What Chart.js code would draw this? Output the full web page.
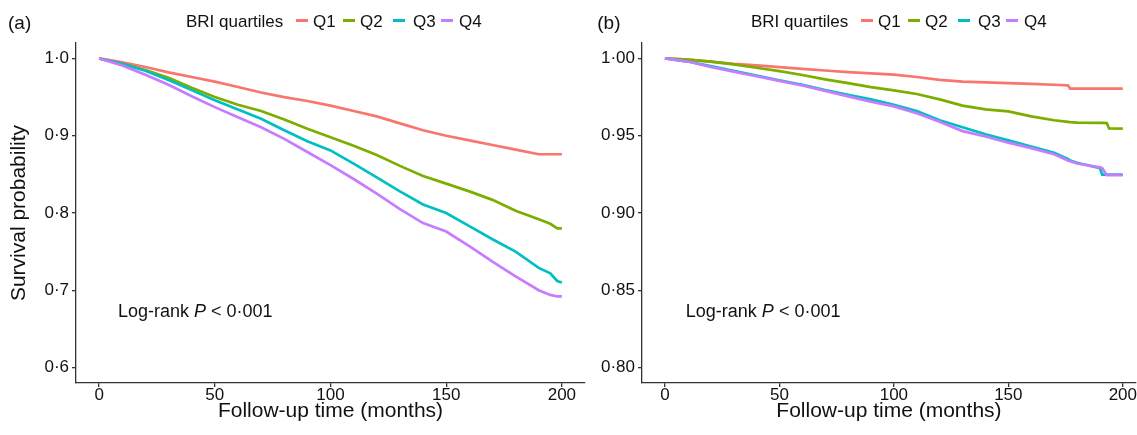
<!DOCTYPE html>
<html>
<head>
<meta charset="utf-8">
<script src="https://cdn.jsdelivr.net/npm/chart.js@4/dist/chart.umd.min.js"></script>
<style>
  body { margin: 0; width: 1137px; height: 435px; overflow: hidden; background: #fff;
         font-family: "Liberation Sans", Arial, sans-serif; color: #111; }
  canvas { position: absolute; top: 0; }
  .txt { position: absolute; line-height: 1; white-space: nowrap; }
  .key { position: absolute; height: 3px; }
</style>
</head>
<body>
<canvas id="grafA" width="590" height="435" style="left:0"></canvas>
<canvas id="grafB" width="547" height="435" style="left:590px"></canvas>
<div id="sobre"></div>
<script>
// Dados
const seriesNames = ["Q1", "Q2", "Q3", "Q4"];
const seriesColors = ["#F8766D", "#7CAE00", "#00BFC4", "#C77CFF"];
const legendTitle = "BRI quartiles";
const panelLabels = ["(a)", "(b)"];

const xTicks = [0, 50, 100, 150, 200];
const yTicksA = [0.6, 0.7, 0.8, 0.9, 1.0];
const yTicksB = [0.80, 0.85, 0.90, 0.95, 1.00];

// painel (a)
const monthsA = [0,10,20,30,40,50,60,70,80,90,100,110,120,130,140,150,160,170,180,190,195,198,200];
const q1A = [1,0.995,0.989,0.982,0.976,0.970,0.963,0.956,0.950,0.945,0.939,0.932,0.925,0.916,0.907,0.900,0.894,0.888,0.882,0.876,0.876,0.876,0.876];
const q2A = [1,0.993,0.985,0.975,0.962,0.950,0.940,0.932,0.921,0.909,0.898,0.887,0.875,0.861,0.848,0.838,0.828,0.817,0.803,0.792,0.786,0.780,0.780];
const q3A = [1,0.993,0.984,0.972,0.959,0.946,0.934,0.922,0.907,0.893,0.881,0.864,0.846,0.828,0.811,0.800,0.783,0.766,0.750,0.729,0.722,0.712,0.710];
const q4A = [1,0.991,0.979,0.966,0.951,0.937,0.924,0.911,0.896,0.879,0.862,0.844,0.825,0.805,0.787,0.776,0.757,0.737,0.718,0.700,0.694,0.692,0.692];

// painel (b)
const monthsB = [0,10,20,30,40,50,60,70,80,90,100,110,120,130,140,150,160,170,176,177,180,190,191,193,194,200];
const q1B = [1,0.9993,0.998,0.9965,0.9955,0.9944,0.9932,0.9922,0.9912,0.9903,0.9895,0.988,0.9862,0.985,0.9845,0.984,0.9835,0.983,0.9826,0.9805,0.9805,0.9805,0.9805,0.9805,0.9805,0.9805];
const q2B = [1,0.9993,0.998,0.9962,0.994,0.9918,0.9893,0.9865,0.984,0.9815,0.9794,0.977,0.9735,0.9695,0.967,0.9658,0.9625,0.960,0.959,0.9588,0.9585,0.9583,0.9583,0.9582,0.9548,0.9546];
const q3B = [1,0.998,0.995,0.992,0.989,0.9858,0.983,0.9795,0.9765,0.9735,0.970,0.966,0.960,0.9555,0.951,0.947,0.943,0.939,0.935,0.934,0.9325,0.929,0.9248,0.9248,0.9248,0.9248];
const q4B = [1,0.998,0.9945,0.9915,0.9885,0.9855,0.9825,0.979,0.9755,0.972,0.969,0.9645,0.959,0.953,0.9495,0.9455,0.942,0.938,0.934,0.9335,0.932,0.9295,0.929,0.9245,0.9245,0.9245];

const fonte = "'Liberation Sans', Arial, sans-serif";
const corEixo = "#333";
const corTexto = "#111";

function ponto(v, casas) {
  return v.toFixed(casas).replace(".", "\u00B7");
}

// Monta um painel
function criarPainel(id, months, series, yTicks, cfg) {
  const ctx = document.getElementById(id).getContext("2d");
  return new Chart(ctx, {
    type: "line",
    data: {
      datasets: series.map((vals, i) => ({
        label: seriesNames[i],
        data: months.map((m, j) => ({ x: m, y: vals[j] })),
        borderColor: seriesColors[i],
        backgroundColor: seriesColors[i],
        borderWidth: 2.7,
        pointRadius: 0,
        tension: 0,
        fill: false,
        order: 3 - i
      }))
    },
    options: {
      responsive: false,
      animation: false,
      layout: { padding: { top: 43, right: cfg.padRight, bottom: 0, left: 0 } },
      plugins: { legend: { display: false }, tooltip: { enabled: false } },
      scales: {
        x: {
          type: "linear",
          min: -10,
          max: cfg.xMax,
          afterBuildTicks: s => { s.ticks = xTicks.map(v => ({ value: v })); },
          afterFit: s => { s.height = 52; },
          grid: { display: true, drawOnChartArea: false, tickLength: 4, color: corEixo, lineWidth: 1.3 },
          border: { display: true, color: corEixo, width: 1.3 },
          ticks: { font: { family: fonte, size: 17, lineHeight: 1 }, color: corTexto, padding: 0, maxRotation: 0 },
          title: { display: true, text: "Follow-up time (months)", color: corTexto,
                   font: { family: fonte, size: 21 }, padding: { top: 0, bottom: 11 } }
        },
        y: {
          min: cfg.yMin,
          max: cfg.yMax,
          afterBuildTicks: s => { s.ticks = yTicks.map(v => ({ value: v })); },
          afterFit: s => { s.width = cfg.yWidth; },
          grid: { display: true, drawOnChartArea: false, tickLength: 4, color: corEixo, lineWidth: 1.3 },
          border: { display: true, color: corEixo, width: 1.3 },
          ticks: { font: { family: fonte, size: 17 }, color: corTexto, padding: 3,
                   callback: v => ponto(v, cfg.casas) },
          title: { display: cfg.yTitle, text: "Survival probability", color: corTexto,
                   font: { family: fonte, size: 21 }, padding: { top: 7, bottom: 0 } }
        }
      }
    }
  });
}

criarPainel("grafA", monthsA, [q1A, q2A, q3A, q4A], yTicksA,
  { xMax: 210, yMin: 0.58, yMax: 1.02, yWidth: 76, casas: 1, yTitle: true, padRight: 5 });
criarPainel("grafB", monthsB, [q1B, q2B, q3B, q4B], yTicksB,
  { xMax: 205.7, yMin: 0.79, yMax: 1.01, yWidth: 52, casas: 2, yTitle: false, padRight: 0 });

// Rótulos, legenda e texto do log-rank (HTML por cima)
const sobre = document.getElementById("sobre");
const keyX = [296, 343, 393, 441];
const txtX = [313, 360, 413, 459];
[0, 565].forEach((dx, p) => {
  sobre.innerHTML += `<div class="txt" style="left:${8 + dx * 1.043}px;top:13px;font-size:19px">${panelLabels[p]}</div>`;
  sobre.innerHTML += `<div class="txt" style="left:${186 + dx}px;top:13px;font-size:17px">${legendTitle}</div>`;
  seriesNames.forEach((n, i) => {
    sobre.innerHTML += `<div class="key" style="left:${keyX[i] + dx}px;top:19px;width:12px;background:${seriesColors[i]}"></div>`;
    sobre.innerHTML += `<div class="txt" style="left:${txtX[i] + dx}px;top:13px;font-size:17px">${n}</div>`;
  });
  sobre.innerHTML += `<div class="txt" style="left:${118 + dx * 1.005}px;top:302px;font-size:18px">Log-rank <i>P</i> &lt; 0\u00B7001</div>`;
});
</script>
</body>
</html>
